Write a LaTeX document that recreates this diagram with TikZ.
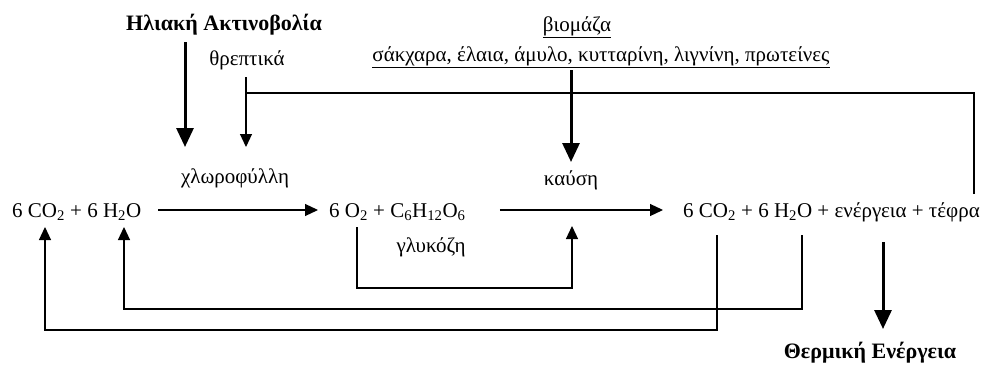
\documentclass[tikz,border=0pt]{standalone}
\usepackage{fontspec}
\setmainfont{Liberation Serif}
\usetikzlibrary{arrows.meta}
\begin{document}
\begin{tikzpicture}[x=1pt,y=-1pt,
 lbl/.style={inner sep=0pt, font=\fontsize{21}{24}\selectfont},
 boldlbl/.style={inner sep=0pt, font=\fontsize{22}{26}\selectfont\bfseries},
 eq/.style={inner sep=0pt, anchor=west, text height=14pt, text depth=0pt, font=\fontsize{21}{25}\selectfont},
 thinline/.style={line width=1.2pt},
 arr/.style={line width=1.2pt, -{Triangle[length=13pt,width=12pt]}},
 bigarr/.style={line width=3pt, -{Triangle[length=19pt,width=17pt]}},
]
\useasboundingbox (0,0) rectangle (989,372);
% texts
\node[boldlbl] (sun) at (224,25) {Ηλιακή Ακτινοβολία};
\node[lbl] (nutr) at (247,60) {θρεπτικά};
\node[lbl] (chl) at (235,178) {χλωροφύλλη};
\node[lbl] (bio) at (577,27) {\underline{βιομάζα}};
\node[lbl] (list) at (601,57) {\underline{σάκχαρα, έλαια, άμυλο, κυτταρίνη, λιγνίνη, πρωτείνες}};
\node[lbl] (comb) at (571,180) {καύση};
\node[lbl] (gluc) at (431,247) {γλυκόζη};
\node[boldlbl] (therm) at (870,353) {Θερμική Ενέργεια};
\node[eq] (r1) at (12,210) {6~CO\textsubscript{2} + 6~H\textsubscript{2}O};
\node[eq] (r2) at (329,210) {6~O\textsubscript{2} + C\textsubscript{6}H\textsubscript{12}O\textsubscript{6}};
\node[eq] (r3) at (683,210) {6~CO\textsubscript{2} + 6~H\textsubscript{2}O + ενέργεια + τέφρα};
% attachment points
\coordinate (sunA) at (185,42);
\coordinate (sunB) at (185,147);
\coordinate (nutA) at (246,77);
\coordinate (nutB) at (246,147);
\coordinate (nutJ) at (246,93);
\coordinate (ashA) at (974,194);
\coordinate (bioA) at (571,70);
\coordinate (bioB) at (571,162);
\coordinate (o2A) at (357,227);
\coordinate (combB) at (572,226);
\coordinate (loopA) at (572,288);
\coordinate (pco2) at (717,235);
\coordinate (ph2o) at (802,235);
\coordinate (rco2) at (45,227);
\coordinate (loopB) at (45,330);
\coordinate (rh2o) at (124,227);
\coordinate (loopC) at (124,309);
\coordinate (enA) at (883,242);
\coordinate (enB) at (883,329);
% connectors
\draw[bigarr] (sunA) -- (sunB);
\draw[arr] (nutA) -- (nutB);
\draw[thinline] (ashA) |- (nutJ);
\draw[bigarr] (bioA) -- (bioB);
\draw[arr] ([xshift=17pt]r1.east) -- ([xshift=-11pt]r2.west);
\draw[arr] ([xshift=34pt]r2.east) -- ([xshift=-20pt]r3.west);
\draw[arr] (o2A) |- (loopA) -- (combB);
\draw[arr] (pco2) |- (loopB) -- (rco2);
\draw[arr] (ph2o) |- (loopC) -- (rh2o);
\draw[bigarr] (enA) -- (enB);
\end{tikzpicture}
\end{document}
